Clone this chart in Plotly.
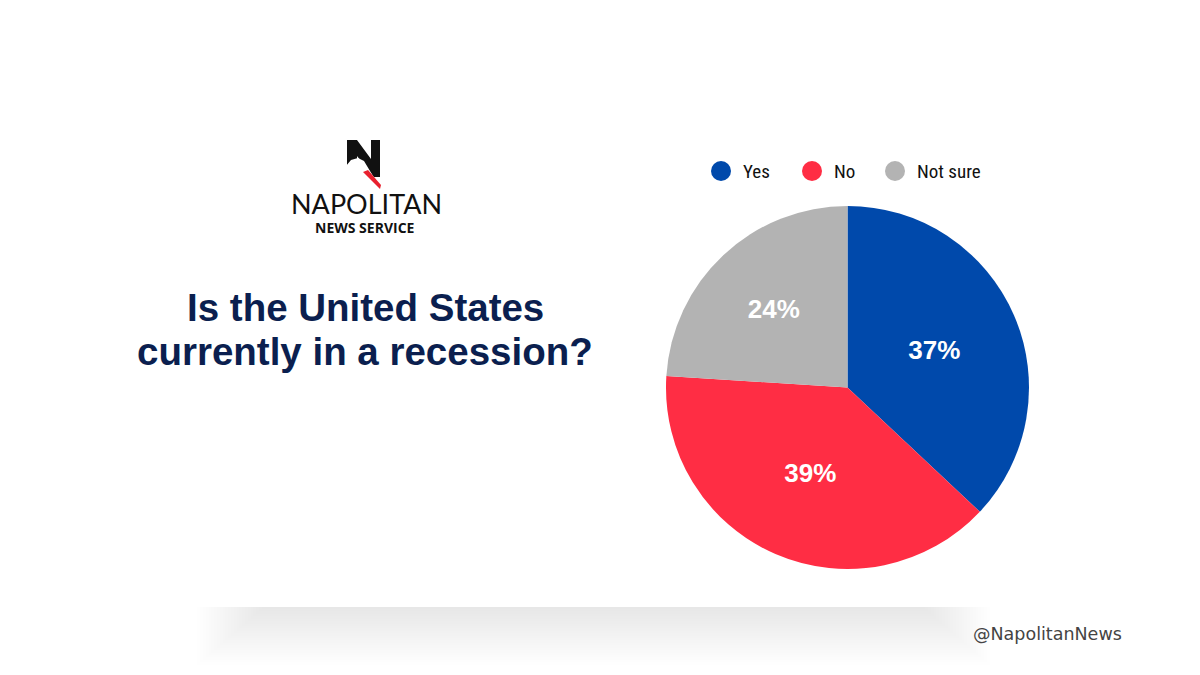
import plotly.graph_objects as go

# ---- data ----
LABELS = ["Yes", "No", "Not sure"]
VALUES = [37, 39, 24]
COLORS = ["#0049AB", "#FF2D44", "#B3B3B3"]

TITLE_LINES = ["Is the United States", "currently in a recession?"]
BRAND = "NAPOLITAN"
BRAND_SUB = "NEWS SERVICE"
HANDLE = "@NapolitanNews"

W, H = 1200, 675
OFF = 8  # page body margin


def px(x):
    return (x - OFF) / W


def py(y):
    return 1 - (y - OFF) / H


def path(points):
    return "M " + " L ".join(f"{px(x):.5f},{py(y):.5f}" for x, y in points) + " Z"


fig = go.Figure()

fig.add_trace(go.Pie(
    labels=LABELS,
    values=VALUES,
    marker=dict(colors=COLORS, line=dict(width=0)),
    sort=False,
    direction="clockwise",
    rotation=0,
    texttemplate="%{percent:.0%}",
    textposition="inside",
    insidetextorientation="horizontal",
    textfont=dict(family="Liberation Sans, Arial, sans-serif", size=26, color="white", weight="bold"),
    domain=dict(x=[px(666), px(1029)], y=[py(569), py(206)]),
    showlegend=False,
    hoverinfo="label+percent",
))

shapes = []
annotations = []

# ---- soft shadow under card ----
N = 24
for k in range(N):
    shapes.append(dict(
        type="rect", xref="paper", yref="paper",
        x0=px(197 + k * 2.8), x1=px(990 - k * 2.8),
        y0=py(607), y1=py(607 + 58 * (N - k) / N),
        fillcolor="rgba(0,0,0,0.0045)", line=dict(width=0), layer="below",
    ))

# ---- logo mark ----
shapes.append(dict(type="path", xref="paper", yref="paper",
                   path=path([(347, 140), (357, 140), (371, 159), (371, 140), (380, 140),
                              (380, 177), (374, 177), (357, 156), (357, 165), (347, 165)]),
                   fillcolor="#111111", line=dict(width=0)))
shapes.append(dict(type="path", xref="paper", yref="paper",
                   path=path([(346, 166), (351, 160), (358, 158), (364, 161), (373, 176), (367, 175), (359, 167)]),
                   fillcolor="white", line=dict(width=0)))
shapes.append(dict(type="path", xref="paper", yref="paper",
                   path=path([(363, 172), (368, 170), (381, 185), (380, 189)]),
                   fillcolor="#E8202E", line=dict(width=0)))

annotations.append(dict(text=BRAND, x=px(366), y=py(203.5), xref="paper", yref="paper",
                        showarrow=False, xanchor="center", yanchor="middle",
                        font=dict(family="Lato, Open Sans, sans-serif", size=27, color="#111111", weight=400)))
annotations.append(dict(text=BRAND_SUB, x=px(365), y=py(227), xref="paper", yref="paper",
                        showarrow=False, xanchor="center", yanchor="middle",
                        font=dict(family="Open Sans, Lato, sans-serif", size=14, color="#111111", weight="bold")))

# ---- title ----
TITLE_Y = [307, 351]
for line, ty in zip(TITLE_LINES, TITLE_Y):
    annotations.append(dict(text=line, x=px(365), y=py(ty), xref="paper", yref="paper",
                            showarrow=False, xanchor="center", yanchor="middle", align="center",
                            font=dict(family="Liberation Sans, Arial, sans-serif", size=38.5,
                                      color="#0B1F4F", weight="bold")))

# ---- legend (manual, circular markers) ----
LEGEND_X = [721, 812, 895]
LEGEND_Y = 171
R = 10
for lab, col, cx in zip(LABELS, COLORS, LEGEND_X):
    shapes.append(dict(type="circle", xref="paper", yref="paper",
                       x0=px(cx - R), x1=px(cx + R), y0=py(LEGEND_Y + R), y1=py(LEGEND_Y - R),
                       fillcolor=col, line=dict(width=0)))
    annotations.append(dict(text=lab, x=px(cx + 20), y=py(LEGEND_Y), xref="paper", yref="paper",
                            showarrow=False, xanchor="left", yanchor="middle",
                            font=dict(family="Liberation Sans Narrow, Roboto Condensed, Arial Narrow, Roboto, sans-serif",
                                      size=19, color="#111111")))

# ---- footer handle ----
annotations.append(dict(text=HANDLE, x=px(1124), y=py(634), xref="paper", yref="paper",
                        showarrow=False, xanchor="right", yanchor="middle",
                        font=dict(family="DejaVu Sans, sans-serif", size=17.5, color="#444444")))

fig.update_layout(
    width=W, height=H,
    margin=dict(l=0, r=0, t=0, b=0),
    paper_bgcolor="white",
    plot_bgcolor="white",
    shapes=shapes,
    annotations=annotations,
)

fig.write_html("out.html")
